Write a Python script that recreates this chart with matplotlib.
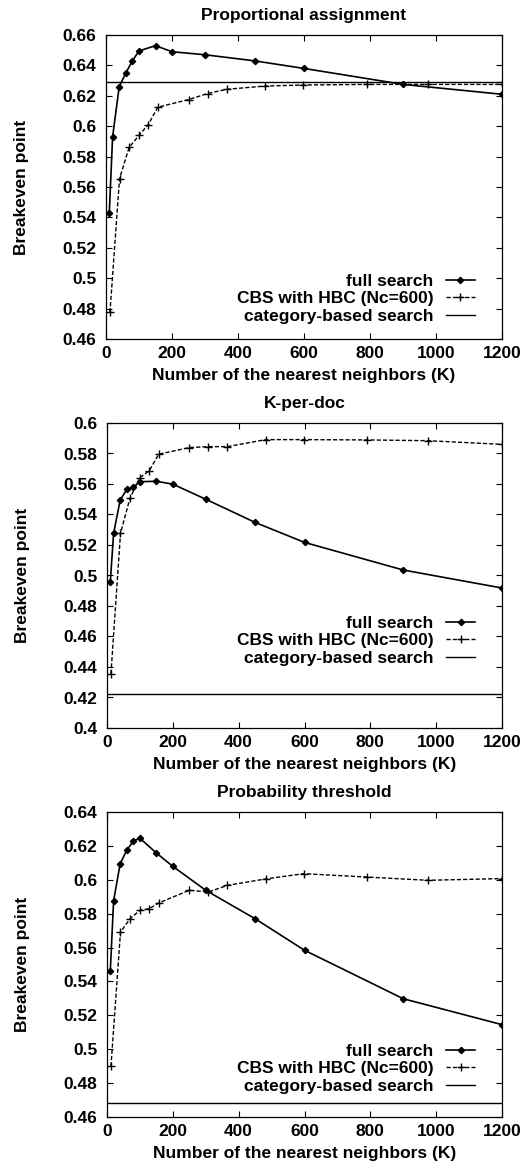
import matplotlib
matplotlib.use("Agg")
import matplotlib.pyplot as plt

plt.rcParams['font.family'] = ['Liberation Sans', 'DejaVu Sans']
plt.rcParams['font.weight'] = 'bold'

titles = ["Proportional assignment", "K-per-doc", "Probability threshold"]
xlabel = "Number of the nearest neighbors (K)"
ylabel = "Breakeven point"
labels = ["full search", "CBS with HBC (Nc=600)", "category-based search"]

k_full = [10, 20, 40, 60, 80, 100, 150, 200, 300, 450, 600, 900, 1200]
k_cbs = [12, 41, 70, 100, 128, 157, 250, 308, 366, 482, 598, 790, 975, 1200]

full_prop = [0.543, 0.593, 0.626, 0.635, 0.643, 0.6495, 0.653, 0.649, 0.647, 0.643, 0.638, 0.6275, 0.621]
cbs_prop = [0.4775, 0.5655, 0.586, 0.594, 0.601, 0.6125, 0.6175, 0.6215, 0.6243, 0.6264, 0.6271, 0.6275, 0.6275, 0.6275]
cat_prop = 0.6293

full_kdoc = [0.4955, 0.5276, 0.5494, 0.5564, 0.558, 0.5615, 0.5618, 0.5599, 0.550, 0.5348, 0.5217, 0.5036, 0.4918]
cbs_kdoc = [0.4356, 0.5276, 0.5509, 0.5642, 0.5686, 0.5795, 0.5839, 0.5845, 0.5845, 0.5891, 0.5891, 0.5889, 0.5884, 0.586]
cat_kdoc = 0.4225

full_prob = [0.546, 0.5875, 0.6095, 0.6174, 0.6229, 0.6245, 0.6158, 0.6079, 0.5938, 0.577, 0.5584, 0.5298, 0.5145]
cbs_prob = [0.4899, 0.5692, 0.577, 0.582, 0.5829, 0.5863, 0.5938, 0.5928, 0.5967, 0.6005, 0.6036, 0.6016, 0.5997, 0.6007]
cat_prob = 0.4683

ylims = [(0.46, 0.66), (0.40, 0.60), (0.46, 0.64)]
yticks = [
    [0.46, 0.48, 0.5, 0.52, 0.54, 0.56, 0.58, 0.6, 0.62, 0.64, 0.66],
    [0.4, 0.42, 0.44, 0.46, 0.48, 0.5, 0.52, 0.54, 0.56, 0.58, 0.6],
    [0.46, 0.48, 0.5, 0.52, 0.54, 0.56, 0.58, 0.6, 0.62, 0.64],
]
xticks = [0, 200, 400, 600, 800, 1000, 1200]

data = [(full_prop, cbs_prop, cat_prop), (full_kdoc, cbs_kdoc, cat_kdoc), (full_prob, cbs_prob, cat_prob)]

FS = 12.5
W, H = 530, 1167
fig = plt.figure(figsize=(W / 100, H / 100), dpi=100)
# axes boxes in pixel coordinates (left, top, right, bottom)
boxes = [(106, 35, 502, 339), (107, 423, 502, 728), (107, 812, 502, 1117)]
leg_y = [0.026, 0.18, 0.052]

for i, (box, (fs, cb, cat)) in enumerate(zip(boxes, data)):
    l, t, r, b = box
    ax = fig.add_axes([l / W, 1 - b / H, (r - l) / W, (b - t) / H])
    ax.plot(k_full, fs, color='black', lw=1.2, marker='D', ms=3.2, label=labels[0])
    ax.plot(k_cbs, cb, color='black', lw=1.0, ls=(0, (3, 1.5)), marker='+', ms=5.5, mew=1, label=labels[1])
    ax.axhline(cat, color='black', lw=1.0, label=labels[2])
    ax.set_xlim(0, 1200)
    ax.set_ylim(*ylims[i])
    ax.set_xticks(xticks)
    ax.set_yticks(yticks[i])
    ax.set_xticklabels([str(v) for v in xticks])
    ax.set_yticklabels([f"{v:g}" for v in yticks[i]])
    ax.tick_params(direction='in', top=True, right=True, length=4, width=0.8, labelsize=FS)
    ax.tick_params(axis='x', pad=5)
    ax.tick_params(axis='y', pad=7)
    for lab in ax.get_xticklabels() + ax.get_yticklabels():
        lab.set_fontweight('bold')
    for s in ax.spines.values():
        s.set_linewidth(0.9)
    ax.set_title(titles[i], fontsize=FS, fontweight='bold', pad=10.5)
    ax.set_xlabel(xlabel, fontsize=FS, fontweight='bold', labelpad=5)
    ax.set_ylabel(ylabel, fontsize=FS, fontweight='bold')
    ax.yaxis.set_label_coords(-0.195, 0.5)
    leg = ax.legend(loc='lower right', frameon=False, markerfirst=False, fontsize=FS,
                    handlelength=1.7, handletextpad=0.7, labelspacing=0.15,
                    borderaxespad=0.0, bbox_to_anchor=(0.95, leg_y[i]))
    for txt in leg.get_texts():
        txt.set_fontweight('bold')

fig.savefig("out.png", dpi=100)
